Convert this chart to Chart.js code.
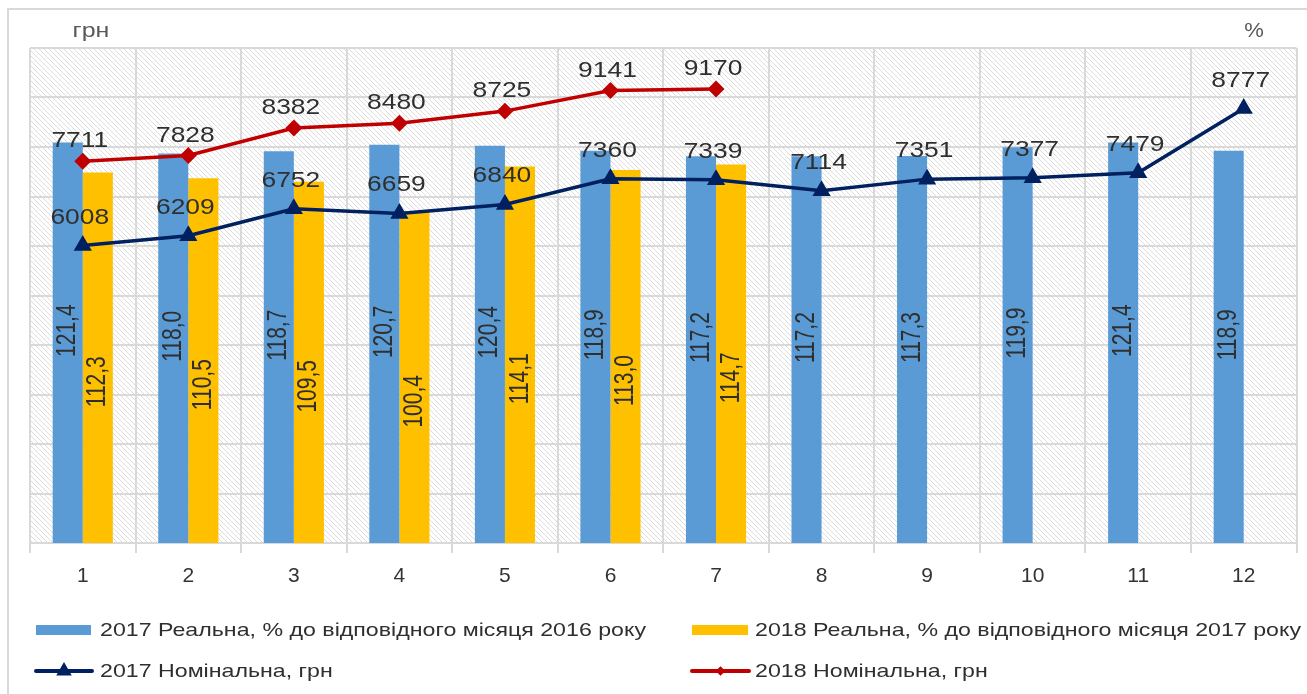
<!DOCTYPE html>
<html>
<head>
<meta charset="utf-8">
<script src="https://cdn.jsdelivr.net/npm/chart.js@4.4.1/dist/chart.umd.min.js"></script>
<style>
    html, body { margin: 0; padding: 0; background: #fff; }
    #wrap { position: relative; width: 1307px; height: 694px; overflow: hidden; }
    #frame { position: absolute; left: 7px; top: 8px; width: 1320px; height: 700px; border: 2px solid #d9d9d9; box-sizing: border-box; }
    canvas { position: absolute; left: 0; top: 0; }
</style>
</head>
<body>
<div id="wrap">
    <div id="frame"></div>
    <canvas id="chart" width="1307" height="694"></canvas>
</div>
<script>
// дані
const months = ['1', '2', '3', '4', '5', '6', '7', '8', '9', '10', '11', '12'];
const real2017 = [121.4, 118.0, 118.7, 120.7, 120.4, 118.9, 117.2, 117.2, 117.3, 119.9, 121.4, 118.9];
const real2018 = [112.3, 110.5, 109.5, 100.4, 114.1, 113.0, 114.7, null, null, null, null, null];
const nominal2017 = [6008, 6209, 6752, 6659, 6840, 7360, 7339, 7114, 7351, 7377, 7479, 8777];
const nominal2018 = [7711, 7828, 8382, 8480, 8725, 9141, 9170, null, null, null, null, null];

const labels = {
    real2017: '2017 Реальна, % до відповідного місяця 2016 року',
    real2018: '2018 Реальна, % до відповідного місяця 2017 року',
    nominal2017: '2017 Номінальна, грн',
    nominal2018: '2018 Номінальна, грн'
};

const BLUE = '#5b9bd5';
const YELLOW = '#ffc000';
const NAVY = '#002060';
const RED = '#c00000';
const GRID = '#d9d9d9';
const TEXT = '#2f2f2f';
const FONT = '"Liberation Sans", Arial, sans-serif';

// штрихований фон області графіка
const hatchBg = {
    id: 'hatchBg',
    beforeDraw: function (chart) {
        const a = chart.chartArea;
        const ctx = chart.ctx;
        const p = document.createElement('canvas');
        p.width = 5; p.height = 5;
        const pc = p.getContext('2d');
        pc.fillStyle = '#fff';
        pc.fillRect(0, 0, 5, 5);
        pc.strokeStyle = '#dcdcdc';
        pc.lineWidth = 1;
        pc.beginPath();
        pc.moveTo(-1, -1); pc.lineTo(6, 6);
        pc.moveTo(-1, 4); pc.lineTo(1, 6);
        pc.moveTo(4, -1); pc.lineTo(6, 1);
        pc.stroke();
        ctx.save();
        ctx.fillStyle = ctx.createPattern(p, 'repeat');
        ctx.fillRect(a.left, a.top, a.right - a.left, a.bottom - a.top);
        ctx.restore();
    }
};

// підписи значень
const valueLabels = {
    id: 'valueLabels',
    afterDatasetsDraw: function (chart) {
        const ctx = chart.ctx;
        chart.data.datasets.forEach(function (ds, i) {
            const meta = chart.getDatasetMeta(i);
            meta.data.forEach(function (el, j) {
                const v = ds.data[j];
                if (v === null || v === undefined) return;
                ctx.save();
                ctx.fillStyle = TEXT;
                ctx.textAlign = 'center';
                ctx.textBaseline = 'middle';
                if (ds.type === 'line') {
                    ctx.font = '22px ' + FONT;
                    ctx.translate(el.x - 3, el.y + ds.labelShift);
                    ctx.scale(1.2, 1);
                    ctx.fillText(String(v), 0, 0);
                } else {
                    ctx.font = '21px ' + FONT;
                    const cy = (el.y + el.base) / 2 + ds.labelShift;
                    ctx.translate(el.x, cy);
                    ctx.rotate(-Math.PI / 2);
                    ctx.scale(1, 1.3);
                    ctx.fillText(v.toFixed(1).replace('.', ','), 0, 0);
                }
                ctx.restore();
            });
        });
    }
};

// назви осей та легенда
const extras = {
    id: 'extras',
    afterDraw: function (chart) {
        const ctx = chart.ctx;
        ctx.save();
        ctx.fillStyle = '#595959';
        ctx.font = '20px ' + FONT;
        ctx.textBaseline = 'middle';
        ctx.textAlign = 'center';
        ctx.save(); ctx.translate(91, 31); ctx.scale(1.25, 1); ctx.fillText('грн', 0, 0); ctx.restore();
        ctx.save(); ctx.translate(1254, 31); ctx.scale(1.1, 1); ctx.fillText('%', 0, 0); ctx.restore();

        const items = [
            { ds: 0, x0: 36, x1: 91, tx: 100, y: 630 },
            { ds: 1, x0: 692, x1: 748, tx: 755, y: 630 },
            { ds: 2, x0: 36, x1: 92, tx: 100, y: 671 },
            { ds: 3, x0: 692, x1: 749, tx: 755, y: 671 }
        ];
        items.forEach(function (it) {
            const ds = chart.data.datasets[it.ds];
            if (ds.type === 'line') {
                ctx.strokeStyle = ds.borderColor;
                ctx.lineWidth = 4;
                ctx.lineCap = 'round';
                ctx.beginPath();
                ctx.moveTo(it.x0, it.y); ctx.lineTo(it.x1, it.y);
                ctx.stroke();
                ctx.fillStyle = ds.borderColor;
                Chart.helpers.drawPoint(ctx, { pointStyle: ds.pointStyle, radius: ds.pointStyle === 'triangle' ? 5 : 2, borderWidth: 1 }, (it.x0 + it.x1) / 2, it.y);
            } else {
                ctx.fillStyle = ds.backgroundColor;
                ctx.fillRect(it.x0, it.y - 5, it.x1 - it.x0, 10);
            }
            ctx.fillStyle = TEXT;
            ctx.textAlign = 'left';
            ctx.font = '19px ' + FONT;
            ctx.save();
            ctx.translate(it.tx, it.y + 1);
            ctx.scale(1.22, 1);
            ctx.fillText(ds.label, 0, 0);
            ctx.restore();
        });
        ctx.restore();
    }
};

new Chart(document.getElementById('chart'), {
    type: 'bar',
    data: {
        labels: months,
        datasets: [
            { label: labels.real2017, data: real2017, backgroundColor: BLUE, yAxisID: 'y1', order: 2, labelShift: -12 },
            { label: labels.real2018, data: real2018, backgroundColor: YELLOW, yAxisID: 'y1', order: 2, labelShift: 24 },
            {
                type: 'line', label: labels.nominal2017, data: nominal2017, yAxisID: 'y', order: 1,
                borderColor: NAVY, backgroundColor: NAVY, borderWidth: 3.5,
                pointStyle: 'triangle', pointRadius: 7, pointBackgroundColor: NAVY, pointBorderColor: NAVY,
                tension: 0, labelShift: -28
            },
            {
                type: 'line', label: labels.nominal2018, data: nominal2018, yAxisID: 'y', order: 1,
                borderColor: RED, backgroundColor: RED, borderWidth: 3.5,
                pointStyle: 'rectRot', pointRadius: 6, pointBackgroundColor: RED, pointBorderColor: RED,
                tension: 0, spanGaps: false, labelShift: -20
            }
        ]
    },
    options: {
        responsive: false,
        animation: false,
        devicePixelRatio: 1,
        categoryPercentage: 0.57,
        barPercentage: 1.0,
        layout: { padding: { left: 30, right: 8, top: 48, bottom: 111 } },
        plugins: {
            legend: { display: false },
            tooltip: { enabled: false }
        },
        scales: {
            x: {
                grid: { color: GRID, lineWidth: 2, tickLength: 10, offset: true },
                border: { color: GRID, width: 2 },
                ticks: { color: '#333333', font: { family: FONT, size: 21 }, padding: 11 },
                afterFit: function (s) { s.height = 40; }
            },
            y: {
                position: 'left',
                min: 0, max: 10000,
                ticks: { display: false, stepSize: 1000 },
                grid: { color: GRID, lineWidth: 2, drawTicks: false },
                border: { display: false },
                afterFit: function (s) { s.width = 0; }
            },
            y1: {
                position: 'right',
                min: 0, max: 150,
                ticks: { display: false, stepSize: 15 },
                grid: { display: false },
                border: { display: false },
                afterFit: function (s) { s.width = 0; }
            }
        }
    },
    plugins: [hatchBg, valueLabels, extras]
});
</script>
</body>
</html>
